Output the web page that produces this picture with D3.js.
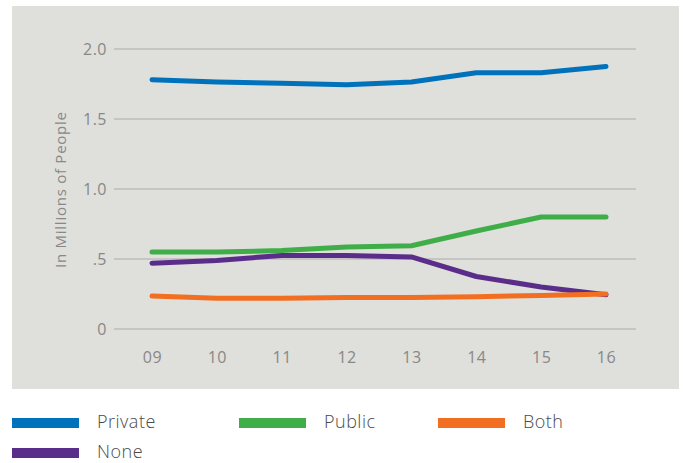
<!DOCTYPE html>
<html><head><meta charset="utf-8">
<script src="https://cdn.jsdelivr.net/npm/d3@7"></script>
<style>
body{margin:0;background:#fff;}
text{font-family:"Open Sans",sans-serif;}
</style></head>
<body><svg id="c" width="683" height="463"></svg>
<script>
const years = ["09","10","11","12","13","14","15","16"];
const privateVals = [1.78,1.765,1.755,1.745,1.765,1.83,1.83,1.875];
const publicVals  = [0.55,0.55,0.56,0.585,0.595,0.70,0.80,0.80];
const bothVals    = [0.235,0.22,0.22,0.225,0.225,0.23,0.24,0.25];
const noneVals    = [0.47,0.49,0.525,0.525,0.515,0.375,0.30,0.245];
const yTicks = [0,0.5,1.0,1.5,2.0];
const yTickLabels = ["0",".5","1.0","1.5","2.0"];
const seriesNames = ["Private","Public","Both","None"];
const seriesColors = ["#0072bc","#3fae49","#f26f21","#5b2d8b"];

const svg = d3.select("#c");
svg.append("rect").attr("x",12).attr("y",6).attr("width",667).attr("height",383).attr("fill","#dfdfdb");

const x = d3.scalePoint().domain(years).range([152,606]);
const y = d3.scaleLinear().domain([0,2]).range([329,49]);

svg.append("g").selectAll("line").data(yTicks).join("line")
  .attr("x1",114).attr("x2",636).attr("y1",d=>y(d)).attr("y2",d=>y(d))
  .attr("stroke","#bcbcb8").attr("stroke-width",1.3);

const yAxis = d3.axisLeft(y).tickValues(yTicks).tickFormat((d,i)=>yTickLabels[i]).tickSize(0).tickPadding(7);
const gy = svg.append("g").attr("transform","translate(114,0)").call(yAxis);
gy.select(".domain").remove();
gy.selectAll("text").attr("fill","#888").style("font-size","16px").style("font-family","'Open Sans',sans-serif").style("letter-spacing","0.5px").attr("dy","0.36em");

const xAxis = d3.axisBottom(x).tickSize(0).tickPadding(0);
const gx = svg.append("g").attr("transform","translate(0,352)").call(xAxis);
gx.select(".domain").remove();
gx.selectAll("text").attr("fill","#888").style("font-size","16px").style("font-family","'Open Sans',sans-serif").style("letter-spacing","0.5px").attr("dy","0.71em");

svg.append("text").attr("transform","translate(66,190) rotate(-90)").attr("text-anchor","middle")
  .attr("fill","#888").style("font-size","15px").attr("textLength",156).attr("lengthAdjust","spacing")
  .text("In Millions of People");

const data = [privateVals,publicVals,bothVals,noneVals];
const line = d3.line().x((d,i)=>x(years[i])).y(d=>y(d));
[0,1,3,2].forEach(k=>{
  svg.append("path").attr("d",line(data[k])).attr("fill","none")
    .attr("stroke",seriesColors[k]).attr("stroke-width",5).attr("stroke-linecap","round").attr("stroke-linejoin","round");
});

// legend
const legPos = [[12,418],[239,418],[438,418],[12,448]];
seriesNames.forEach((n,i)=>{
  const g = svg.append("g").attr("transform",`translate(${legPos[i][0]},${legPos[i][1]})`);
  g.append("rect").attr("width",67).attr("height",10).attr("fill",seriesColors[i]);
  g.append("text").attr("x",85).attr("y",10).attr("fill","#4a4a4a")
   .style("font-size","18px").style("font-weight","300").style("letter-spacing","0.5px").text(n);
});
</script></body></html>
